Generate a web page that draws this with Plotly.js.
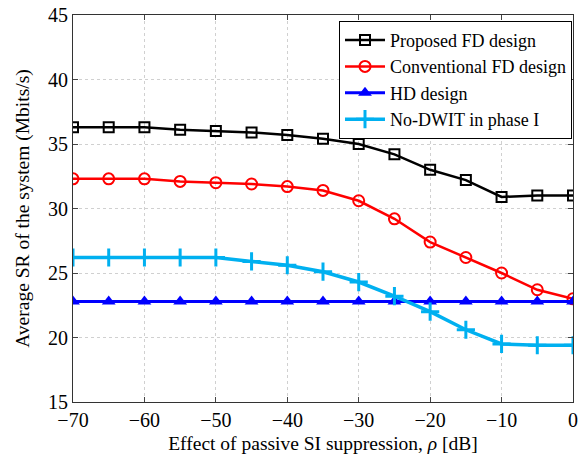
<!DOCTYPE html>
<html><head><meta charset="utf-8">
<script src="https://cdn.plot.ly/plotly-3.0.1.min.js"></script>
<style>body{margin:0;padding:0;background:#fff}</style>
</head><body>
<div id="chart" style="width:581px;height:462px"></div>
<script>
const rho = [-70,-65,-60,-55,-50,-45,-40,-35,-30,-25,-20,-15,-10,-5,0];
const proposedFD = [36.3,36.3,36.3,36.1,36.0,35.9,35.7,35.4,35.0,34.2,33.0,32.2,30.9,31.0,31.0];
const conventionalFD = [32.3,32.3,32.3,32.1,32.0,31.9,31.7,31.4,30.6,29.2,27.4,26.2,25.0,23.7,23.0];
const hdDesign = [22.8,22.8,22.8,22.8,22.8,22.8,22.8,22.8,22.8,22.8,22.8,22.8,22.8,22.8,22.8];
const noDWIT = [26.2,26.2,26.2,26.2,26.2,25.9,25.6,25.1,24.3,23.2,22.0,20.6,19.5,19.4,19.4];
const names = ['Proposed FD design','Conventional FD design','HD design','No-DWIT in phase I'];
const xTicks = [-70,-60,-50,-40,-30,-20,-10,0];
const yTicks = [15,20,25,30,35,40,45];

const traces = [
  {x: rho, y: proposedFD, name: names[0], mode:'lines+markers',
   line:{color:'#000000', width:2.5},
   marker:{symbol:'square-open', size:10, color:'#000000', line:{width:2, color:'#000000'}}},
  {x: rho, y: conventionalFD, name: names[1], mode:'lines+markers',
   line:{color:'#FF0000', width:2.5},
   marker:{symbol:'circle-open', size:11, color:'#FF0000', line:{width:2, color:'#FF0000'}}},
  {x: rho, y: hdDesign, name: names[2], mode:'lines+markers',
   line:{color:'#0000FF', width:3},
   marker:{symbol:'triangle-up', size:12, color:'#0000FF'}},
  {x: rho, y: noDWIT, name: names[3], mode:'lines+markers',
   line:{color:'#00B0F0', width:3.5},
   marker:{symbol:'cross-thin-open', size:13, color:'#00B0F0', line:{width:3, color:'#00B0F0'}}}
];

const fontFam = '"Liberation Serif", "DejaVu Serif", serif';
const layout = {
  width:581, height:462,
  margin:{l:73, r:8, t:15, b:60},
  paper_bgcolor:'#fff', plot_bgcolor:'#fff',
  font:{family:fontFam, size:19, color:'#000'},
  showlegend:true,
  legend:{x:0.998, xanchor:'right', y:0.985, yanchor:'top',
    bordercolor:'#000', borderwidth:1, bgcolor:'#fff',
    font:{family:fontFam, size:18, color:'#000'}, tracegroupgap:0, itemwidth:40},
  xaxis:{range:[-70,0], tickvals:xTicks,
    ticks:'inside', ticklen:5, tickcolor:'#444', mirror:'ticks',
    showline:true, linecolor:'#333', linewidth:1,
    showgrid:true, gridcolor:'#d0d0d0', griddash:'dot', gridwidth:1,
    zeroline:false, tickfont:{size:20},
    title:{text:'Effect of passive SI suppression, <i>ρ</i> [dB]', font:{size:19.5}, standoff:6}},
  yaxis:{range:[15,45], tickvals:yTicks,
    ticks:'inside', ticklen:5, tickcolor:'#444', mirror:'ticks',
    showline:true, linecolor:'#333', linewidth:1,
    showgrid:true, gridcolor:'#d0d0d0', griddash:'dot', gridwidth:1,
    zeroline:false, tickfont:{size:20},
    title:{text:'Average SR of the system (Mbits/s)', font:{size:19.5}, standoff:13}}
};
Plotly.newPlot('chart', traces, layout, {displayModeBar:false, staticPlot:true});
</script>
</body></html>
